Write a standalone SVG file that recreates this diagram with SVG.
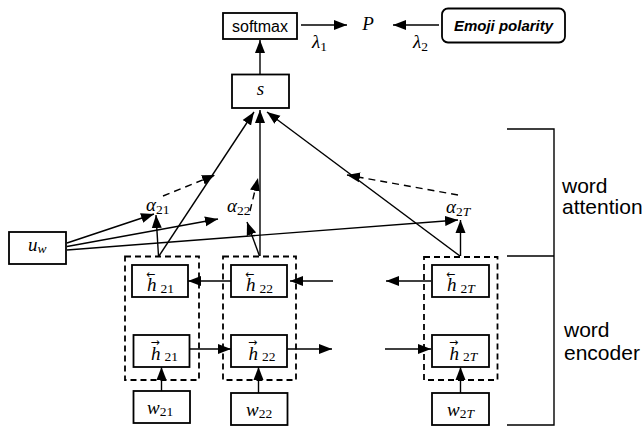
<svg xmlns="http://www.w3.org/2000/svg" width="644" height="429" viewBox="0 0 644 429">
<style>
  .box{fill:#fff;stroke:#000;stroke-width:1.8}
  .dbox{fill:none;stroke:#000;stroke-width:1.8;stroke-dasharray:6,4}
  .ln{stroke:#000;stroke-width:1.4;fill:none}
  .arr{stroke:#000;stroke-width:1.4;fill:none;marker-end:url(#ah)}
  .darr{stroke:#000;stroke-width:1.4;fill:none;stroke-dasharray:7,5;marker-end:url(#ah)}
  .m{font-family:"Liberation Serif","DejaVu Serif",serif;font-style:italic;font-size:19px;fill:#000}
  .sub{font-family:"Liberation Serif","DejaVu Serif",serif;font-style:normal;font-size:13.5px}
  .subi{font-style:italic}
  .ar{font-family:"DejaVu Sans",sans-serif;font-style:normal;font-size:11px;text-anchor:middle}
  .sans{font-family:"Liberation Sans",Arial,sans-serif;fill:#000}
</style>
<defs>
  <marker id="ah" markerWidth="14" markerHeight="11" refX="13" refY="5.5" orient="auto" markerUnits="userSpaceOnUse">
    <path d="M0,0.5 L13,5.5 L0,10.5 z" fill="#000"/>
  </marker>
</defs>
<rect width="644" height="429" fill="#fff"/>

<g id="connectors">
  <!-- top -->
  <line class="arr" x1="260" y1="74" x2="260" y2="40"/>
  <line class="arr" x1="301" y1="25" x2="347" y2="25"/>
  <line class="arr" x1="439" y1="25" x2="393" y2="25"/>
  <!-- into s -->
  <line class="arr" x1="159" y1="256" x2="254" y2="112"/>
  <line class="arr" x1="260" y1="256" x2="260" y2="110"/>
  <line class="arr" x1="460" y1="256" x2="267" y2="112"/>
  <!-- dashed attention arrows -->
  <line class="darr" x1="163" y1="196" x2="215" y2="175"/>
  <line class="darr" x1="250" y1="211" x2="258" y2="178"/>
  <line class="darr" x1="458" y1="195" x2="347" y2="175"/>
  <!-- u_w to alphas -->
  <line class="arr" x1="67" y1="243" x2="154" y2="214"/>
  <line class="arr" x1="67" y1="246.5" x2="218" y2="219"/>
  <line class="arr" x1="67" y1="250" x2="458" y2="220"/>
  <!-- h to alphas -->
  <line class="arr" x1="158.5" y1="256" x2="156" y2="215"/>
  <line class="arr" x1="259.5" y1="256" x2="247" y2="222"/>
  <line class="arr" x1="460.5" y1="256" x2="460.5" y2="220"/>
  <!-- backward -->
  <line class="arr" x1="231" y1="281" x2="188" y2="281"/>
  <line class="arr" x1="333" y1="281" x2="290" y2="281"/>
  <line class="arr" x1="431" y1="281" x2="386" y2="281"/>
  <!-- forward -->
  <line class="arr" x1="190" y1="349" x2="231" y2="349"/>
  <line class="arr" x1="287" y1="349" x2="332" y2="349"/>
  <line class="arr" x1="385" y1="349" x2="431" y2="349"/>
  <!-- w to h -->
  <line class="arr" x1="161.5" y1="391" x2="161.5" y2="367"/>
  <line class="arr" x1="258.5" y1="393" x2="258.5" y2="367"/>
  <line class="arr" x1="460.5" y1="393" x2="460.5" y2="367"/>
</g>

<g id="softmax">
  <rect class="box" x="223" y="13" width="74" height="26"/>
  <text class="sans" x="260" y="31.5" font-size="16" text-anchor="middle">softmax</text>
</g>
<g id="P">
  <text class="m" x="368" y="30" font-size="14" text-anchor="middle">P</text>
</g>
<g id="lambda1">
  <text class="m" x="312" y="48" font-size="14">λ<tspan class="sub" font-size="10" dy="3">1</tspan></text>
</g>
<g id="lambda2">
  <text class="m" x="413" y="48" font-size="14">λ<tspan class="sub" font-size="10" dy="3">2</tspan></text>
</g>
<g id="emoji">
  <rect class="box" x="442" y="8.5" width="123" height="34" rx="6" stroke-width="1.3"/>
  <text class="sans" x="503.5" y="31" font-size="15" font-weight="bold" font-style="italic" text-anchor="middle">Emoji polarity</text>
</g>
<g id="s">
  <rect class="box" x="232" y="74.5" width="57" height="33.5"/>
  <text class="m" x="260.5" y="95" font-size="14" text-anchor="middle">s</text>
</g>
<g id="uw">
  <rect class="box" x="9" y="232" width="57" height="32"/>
  <text class="m" x="28" y="251">u<tspan class="sub subi" dy="2">w</tspan></text>
</g>

<g id="alpha21"><text class="m" x="146" y="211" font-size="20">α<tspan class="sub" font-size="14" dy="2.5">21</tspan></text></g>
<g id="alpha22"><text class="m" x="227" y="212" font-size="20">α<tspan class="sub" font-size="14" dy="2.5">22</tspan></text></g>
<g id="alpha2T"><text class="m" x="446" y="213" font-size="20">α<tspan class="sub" font-size="14" dy="2.5">2<tspan class="subi">T</tspan></tspan></text></g>

<g id="col1">
  <rect class="dbox" x="125" y="256.5" width="74" height="123.5"/>
  <g id="hb21">
    <rect class="box" x="132" y="265" width="56" height="32"/>
    <text class="ar" x="150.5" y="277.5">←</text>
    <text class="m" x="147" y="291">h<tspan class="sub" dx="4" dy="1.5">21</tspan></text>
  </g>
  <g id="hf21">
    <rect class="box" x="133.5" y="335" width="56" height="32"/>
    <text class="ar" x="155" y="346">→</text>
    <text class="m" x="151" y="359.5">h<tspan class="sub" dx="4" dy="1.5">21</tspan></text>
  </g>
  <g id="w21">
    <rect class="box" x="133.5" y="391" width="56.5" height="32"/>
    <text class="m" x="147" y="414">w<tspan class="sub" dy="1.5">21</tspan></text>
  </g>
</g>

<g id="col2">
  <rect class="dbox" x="223" y="256.5" width="73" height="123.5"/>
  <g id="hb22">
    <rect class="box" x="231" y="265" width="56" height="32"/>
    <text class="ar" x="249.5" y="277.5">←</text>
    <text class="m" x="246" y="291">h<tspan class="sub" dx="4" dy="1.5">22</tspan></text>
  </g>
  <g id="hf22">
    <rect class="box" x="231" y="335" width="56" height="32"/>
    <text class="ar" x="252.5" y="346">→</text>
    <text class="m" x="248.5" y="359.5">h<tspan class="sub" dx="4" dy="1.5">22</tspan></text>
  </g>
  <g id="w22">
    <rect class="box" x="231" y="393" width="56.5" height="32"/>
    <text class="m" x="246" y="416">w<tspan class="sub" dy="1.5">22</tspan></text>
  </g>
</g>

<g id="col3">
  <rect class="dbox" x="424" y="257" width="73.5" height="123"/>
  <g id="hb2T">
    <rect class="box" x="432" y="265" width="57" height="32"/>
    <text class="ar" x="450.5" y="277.5">←</text>
    <text class="m" x="447" y="291">h<tspan class="sub" dx="4" dy="1.5">2<tspan class="subi">T</tspan></tspan></text>
  </g>
  <g id="hf2T">
    <rect class="box" x="432" y="335" width="57" height="32"/>
    <text class="ar" x="453.5" y="346">→</text>
    <text class="m" x="449.5" y="359.5">h<tspan class="sub" dx="4" dy="1.5">2<tspan class="subi">T</tspan></tspan></text>
  </g>
  <g id="w2T">
    <rect class="box" x="432" y="393" width="57" height="32"/>
    <text class="m" x="447" y="416">w<tspan class="sub" dy="1.5">2<tspan class="subi">T</tspan></tspan></text>
  </g>
</g>

<g id="brackets">
  <path class="ln" d="M507,129 H554 V425 H507 M507,256 H554" stroke-width="1.3"/>
  <text class="sans" x="562" y="193" font-size="21">word</text>
  <text class="sans" x="562" y="214" font-size="21">attention</text>
  <text class="sans" x="564" y="337" font-size="21">word</text>
  <text class="sans" x="564" y="360" font-size="21">encoder</text>
</g>
</svg>
